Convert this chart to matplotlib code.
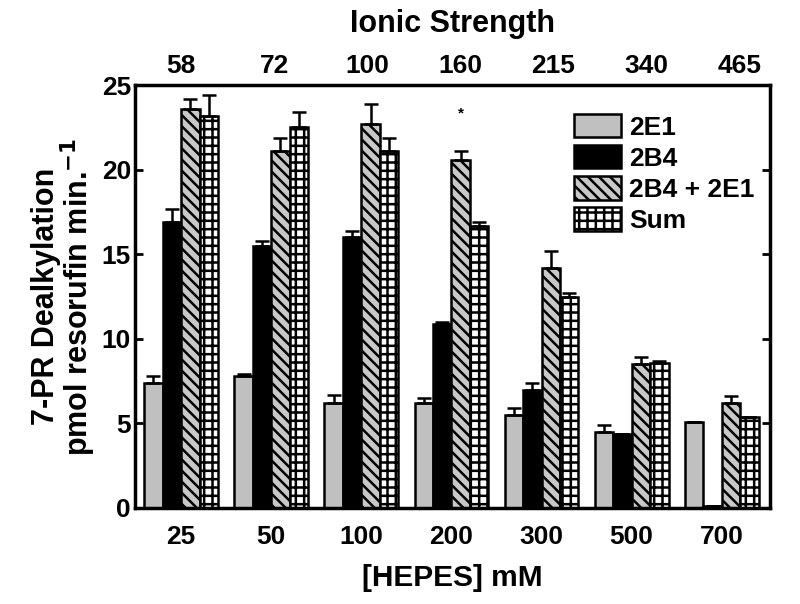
import numpy as np
import matplotlib
matplotlib.use("Agg")
import matplotlib.pyplot as plt
from matplotlib.patches import Patch

plt.rcParams['font.family'] = ['Liberation Sans', 'DejaVu Sans']
plt.rcParams['font.weight'] = 'bold'
plt.rcParams['axes.labelweight'] = 'bold'
plt.rcParams['mathtext.default'] = 'bf'
plt.rcParams['hatch.linewidth'] = 1.8

hepes = ['25', '50', '100', '200', '300', '500', '700']
ionic = ['58', '72', '100', '160', '215', '340', '465']
series = ['2E1', '2B4', '2B4 + 2E1', 'Sum']

v_2e1 = [7.4, 7.8, 6.2, 6.2, 5.5, 4.5, 5.1]
e_2e1 = [0.4, 0.1, 0.5, 0.3, 0.4, 0.4, 0.0]
v_2b4 = [16.9, 15.5, 16.0, 10.9, 7.0, 4.4, 0.1]
e_2b4 = [0.8, 0.3, 0.4, 0.1, 0.4, 0.0, 0.0]
v_combo = [23.6, 21.1, 22.7, 20.6, 14.2, 8.5, 6.2]
e_combo = [0.6, 0.8, 1.2, 0.5, 1.0, 0.4, 0.4]
v_sum = [23.2, 22.5, 21.1, 16.7, 12.5, 8.6, 5.4]
e_sum = [1.2, 0.9, 0.8, 0.2, 0.2, 0.1, 0.0]

star_group = 3
star_y = 23.3

fig = plt.figure(figsize=(8, 6.04), dpi=100)
ax = fig.add_axes([0.169, 0.159, 0.794, 0.700])

x = np.arange(len(hepes))
w = 0.205
vals = [v_2e1, v_2b4, v_combo, v_sum]
errs = [e_2e1, e_2b4, e_combo, e_sum]
faces = ['#c0c0c0', 'black', '#c8c8c8', 'white']
hatches = [None, None, '\\\\\\', '++']

for k in range(4):
    pos = x + (k - 1.5) * w
    ax.bar(pos, vals[k], width=w, color=faces[k], edgecolor='black',
           linewidth=1.8, hatch=hatches[k], zorder=2)
    ax.errorbar(pos, vals[k], yerr=[np.zeros(len(x)), errs[k]], fmt='none',
                ecolor='black', elinewidth=1.8, capsize=5, capthick=1.8, zorder=3)

ax.text(x[star_group] + 0.5 * w, star_y, '*', ha='center', va='center', fontsize=11)

ax.set_xlim(-0.51, 6.54)
ax.set_ylim(0, 25)
ax.set_yticks([0, 5, 10, 15, 20, 25])
ax.set_xticks(x)
ax.set_xticklabels(hepes)
ax.tick_params(axis='x', length=0, labelsize=19, pad=12)
ax.tick_params(axis='y', direction='in', length=6, width=2, labelsize=19,
               right=True, pad=3)
for s in ax.spines.values():
    s.set_linewidth(2.5)

ax.set_xlabel('[HEPES] mM', fontsize=21.5, labelpad=11)
ax.set_ylabel('7-PR Dealkylation\npmol resorufin min.$^{-1}$',
              fontsize=22, labelpad=3, linespacing=0.9)

top = ax.twiny()
top.set_xlim(ax.get_xlim())
top.set_xticks(x + np.linspace(0, 0.2, len(x)))
top.set_xticklabels(ionic)
top.tick_params(axis='x', length=0, labelsize=19, pad=5)
top.set_xlabel('Ionic Strength', fontsize=22, labelpad=16)
for s in top.spines.values():
    s.set_visible(False)

handles = [Patch(facecolor=faces[k], edgecolor='black', linewidth=1.8,
                 hatch=hatches[k], label=series[k]) for k in range(4)]
ax.legend(handles=handles, loc='upper right', bbox_to_anchor=(1.0, 0.97),
          frameon=False, fontsize=19, handlelength=1.8, handleheight=1.0,
          handletextpad=0.3, labelspacing=0.2, borderaxespad=0.2)

fig.savefig('out.png', dpi=100)
